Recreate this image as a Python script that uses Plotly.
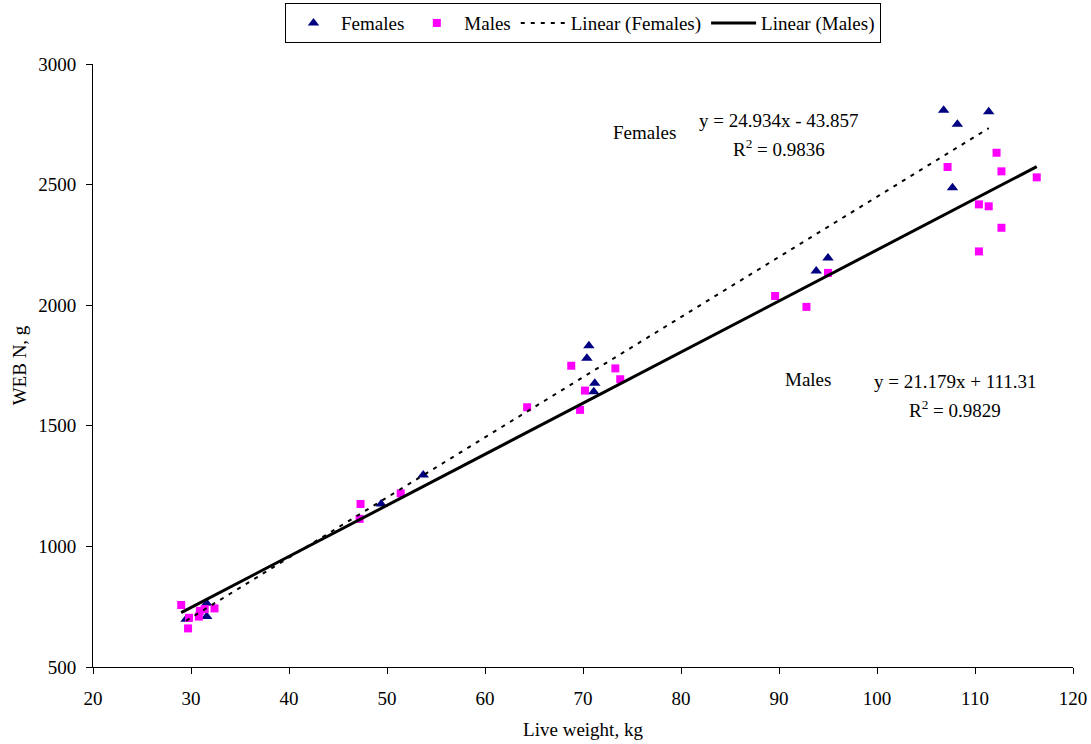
import plotly.graph_objects as go
import numpy as np

# Data
female_weight = [106.8, 108.2, 111.4, 107.7, 93.8, 95.0, 70.6, 70.4, 71.2, 71.1, 53.7, 49.4, 29.5, 31.6, 31.6]
female_web = [2808, 2750, 2802, 2487, 2142, 2196, 1832, 1780, 1676, 1641, 1296, 1176, 698, 764, 709]

male_weight = [95.0, 89.6, 92.8, 112.2, 107.2, 112.7, 116.3, 110.4, 111.4, 112.7, 110.4,
               68.8, 73.3, 73.8, 70.2, 64.3, 69.7, 47.3, 51.4, 47.2,
               29.0, 29.8, 29.7, 30.9, 30.8, 31.4, 32.4]
male_web = [2134, 2038, 1993, 2632, 2573, 2555, 2530, 2418, 2410, 2321, 2223,
            1749, 1738, 1693, 1646, 1577, 1566, 1176, 1220, 1114,
            757, 704, 660, 733, 709, 740, 743]

# Trendline coefficients as printed on the chart
female_slope, female_intercept, female_r2 = 24.934, -43.857, 0.9836
male_slope, male_intercept, male_r2 = 21.179, 111.31, 0.9829

FONT = "Liberation Serif"
FS = 19

fx = np.array([min(female_weight), max(female_weight)])
mx = np.array([min(male_weight), max(male_weight)])

fig = go.Figure()
fig.add_trace(go.Scatter(x=female_weight, y=female_web, mode="markers", name="Females",
                         marker=dict(symbol="triangle-up", size=10, color="#000080")))
fig.add_trace(go.Scatter(x=male_weight, y=male_web, mode="markers", name="Males",
                         marker=dict(symbol="square", size=8, color="#FF00FF")))
fig.add_trace(go.Scatter(x=fx, y=female_slope * fx + female_intercept, mode="lines",
                         name="Linear (Females)",
                         line=dict(color="black", width=2, dash="4px,6px")))
fig.add_trace(go.Scatter(x=mx, y=male_slope * mx + male_intercept, mode="lines",
                         name="Linear (Males)", line=dict(color="black", width=3)))

ann_font = dict(family=FONT, size=FS, color="black")
fig.add_annotation(x=76.3, y=2714, text="Females", showarrow=False, font=ann_font)
fig.add_annotation(x=90.0, y=2764, text="y = 24.934x - 43.857", showarrow=False, font=ann_font)
fig.add_annotation(x=90.0, y=2652, text=f"R<sup>2</sup> = {female_r2}", showarrow=False, font=ann_font)
fig.add_annotation(x=93.0, y=1690, text="Males", showarrow=False, font=ann_font)
fig.add_annotation(x=108.0, y=1682, text="y = 21.179x + 111.31", showarrow=False, font=ann_font)
fig.add_annotation(x=108.0, y=1570, text=f"R<sup>2</sup> = {male_r2}", showarrow=False, font=ann_font)

axis_common = dict(showline=True, linecolor="black", linewidth=1, showgrid=False, zeroline=False,
                   ticks="outside", ticklen=6, tickcolor="black", automargin=False,
                   tickfont=dict(family=FONT, size=FS, color="black"))
fig.update_xaxes(range=[20, 120], dtick=10, tick0=20, ticklabelstandoff=8,
                 title=dict(text="Live weight, kg", font=dict(family=FONT, size=FS, color="black"), standoff=14),
                 **axis_common)
fig.update_yaxes(range=[500, 3000], dtick=500, tick0=500, ticklabelstandoff=6,
                 title=dict(text="WEB N, g", font=dict(family=FONT, size=FS, color="black"), standoff=6),
                 **axis_common)

fig.update_layout(
    width=1091, height=744,
    margin=dict(l=93, r=18, t=64, b=77, autoexpand=False),
    plot_bgcolor="white", paper_bgcolor="white",
    font=dict(family=FONT, size=FS, color="black"),
    legend=dict(orientation="h", x=0.5, xanchor="center", y=1.101, yanchor="top",
                bordercolor="black", borderwidth=1, bgcolor="white", itemwidth=45,
                font=dict(family=FONT, size=FS, color="black")),
)

fig.write_html("out.html", config={"displayModeBar": False},
               post_script="document.body.style.margin='0';")
